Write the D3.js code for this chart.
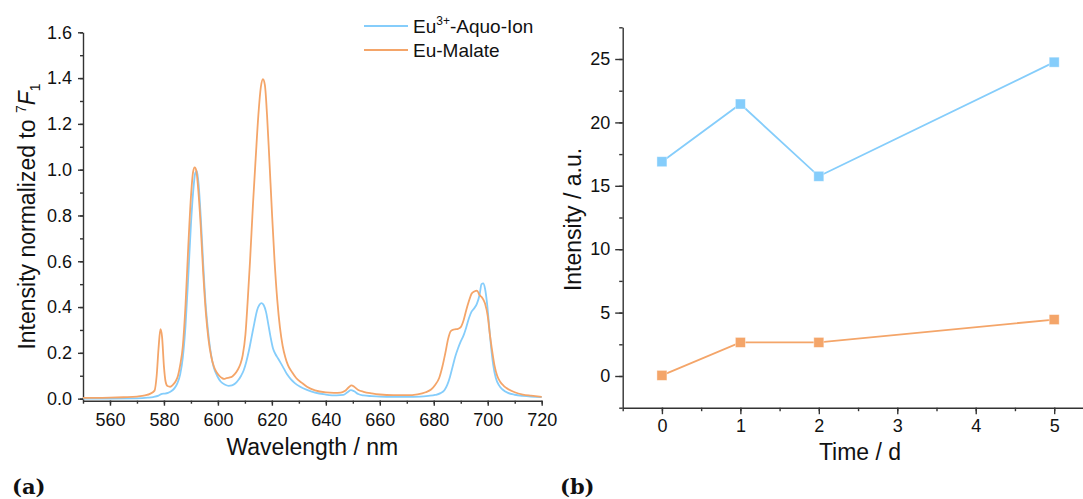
<!DOCTYPE html>
<html>
<head>
<meta charset="utf-8">
<script src="https://cdn.jsdelivr.net/npm/d3@7"></script>
<style>
  body { margin: 0; background: #fff; }
  svg { display: block; }
  .tick text { font-family: "Liberation Sans", Arial, sans-serif; font-size: 18px; fill: #111; }
  .axis path, .axis line { stroke: #333; stroke-width: 1.4; }
  .axis-label { font-family: "Liberation Sans", Arial, sans-serif; font-size: 23px; fill: #111; }
  .panel-label { font-family: "DejaVu Serif", "Liberation Serif", serif; font-weight: bold; font-size: 21px; fill: #111; }
  .legend text { font-family: "Liberation Sans", Arial, sans-serif; font-size: 19px; fill: #111; }
</style>
</head>
<body>
<div id="chart"></div>
<script>
// ---- panel (a): emission spectra ----
const aquoNm = [550, 560, 570, 574, 576, 578, 579.3, 580.3, 581.5, 582.8, 584, 585, 586, 587, 588, 589, 590, 590.8, 591.6, 592.2,
  592.9, 593.7, 594.5, 595.4, 596.4, 597.5, 598.5, 599.7, 601, 602.5, 604, 605.2, 606.4, 607.5, 608.6, 609.6, 610.5, 611.5,
  612.5, 613.5, 614.5, 615.4, 616.2, 617, 617.8, 618.6, 619.5, 620.4, 621.3, 622.3, 623.3, 624.5, 625.7, 627, 628.5, 630.5,
  633, 636, 640, 644, 646.5, 648, 649.3, 650.5, 652, 654, 657, 660, 665, 670, 675, 678, 680.5, 682.5, 684, 685, 686, 687,
  688, 689, 690, 691, 692, 693, 694, 695, 696, 697, 697.7, 698.3, 699, 699.8, 700.5, 701.2, 702, 703, 704.2, 705.5, 707.5,
  710, 713, 716, 720];
const aquoVal = [0.0, 0.0, 0.001, 0.004, 0.007, 0.013, 0.021, 0.022, 0.025, 0.033, 0.047, 0.068, 0.105, 0.18, 0.32, 0.53, 0.76, 0.9, 0.985, 0.995,
  0.93, 0.78, 0.6, 0.42, 0.29, 0.19, 0.135, 0.1, 0.075, 0.062, 0.056, 0.058, 0.066, 0.08, 0.1, 0.125, 0.16, 0.21,
  0.27, 0.33, 0.385, 0.41, 0.417, 0.408, 0.38, 0.33, 0.27, 0.22, 0.195, 0.175, 0.155, 0.13, 0.105, 0.085, 0.068, 0.052,
  0.038, 0.026, 0.018, 0.014, 0.016, 0.028, 0.037, 0.032, 0.02, 0.014, 0.011, 0.009, 0.008, 0.008, 0.009, 0.012, 0.016, 0.024, 0.038, 0.06, 0.095, 0.14,
  0.185, 0.22, 0.25, 0.275, 0.31, 0.35, 0.38, 0.395, 0.415, 0.455, 0.5, 0.503, 0.48, 0.41, 0.32, 0.23, 0.15, 0.09, 0.058, 0.04, 0.025,
  0.017, 0.012, 0.009, 0.007];

const malateNm = [550, 555, 560, 565, 570, 573, 575, 576.5, 577.3, 578, 578.7, 579.3, 580, 580.6, 581.3, 582.3, 583.3, 584.3, 585.2, 586,
  587, 588, 589, 590, 590.8, 591.4, 592, 592.8, 593.6, 594.5, 595.5, 596.5, 597.5, 598.5, 599.5, 600.5, 601.5, 602.3, 603.2,
  604.2, 605.2, 606.3, 607.3, 608.3, 609.2, 610.2, 611, 611.9, 613, 614, 615, 615.9, 616.7, 617.4, 618.2, 619, 620, 621, 622,
  623, 624, 625, 626, 627.5, 629, 631, 633, 636, 640, 643, 645.5, 647, 648.5, 649.5, 650.5, 652, 654, 657, 660, 665, 670, 674,
  677, 679, 680.5, 682, 683.2, 684.3, 685.3, 686.3, 687.5, 689, 690, 691, 692, 693, 694, 695, 696, 697, 698, 699, 700, 700.8,
  701.5, 702.5, 703.5, 704.6, 706, 707.5, 710, 713, 716, 720];
const malateVal = [0.003, 0.003, 0.004, 0.006, 0.009, 0.014, 0.022, 0.035, 0.1, 0.22, 0.303, 0.27, 0.14, 0.075, 0.055, 0.052, 0.06, 0.075, 0.1, 0.145,
  0.23, 0.41, 0.66, 0.88, 0.99, 1.01, 0.995, 0.9, 0.76, 0.56, 0.38, 0.26, 0.185, 0.14, 0.115, 0.1, 0.09, 0.086, 0.09,
  0.092, 0.096, 0.108, 0.125, 0.15, 0.19, 0.28, 0.42, 0.6, 0.85, 1.05, 1.24, 1.36, 1.395, 1.37, 1.24, 1.06, 0.82, 0.6, 0.43,
  0.31, 0.23, 0.18, 0.145, 0.115, 0.09, 0.07, 0.052, 0.036, 0.027, 0.025, 0.026, 0.033, 0.05, 0.058, 0.052, 0.038, 0.03, 0.023, 0.018, 0.015, 0.015, 0.019,
  0.028, 0.04, 0.06, 0.09, 0.14, 0.2, 0.26, 0.295, 0.302, 0.305, 0.312, 0.34, 0.385, 0.425, 0.458, 0.468, 0.472, 0.452, 0.44, 0.415, 0.36, 0.28,
  0.22, 0.145, 0.1, 0.074, 0.055, 0.042, 0.028, 0.018, 0.013, 0.008];

const nmTicks = [560, 580, 600, 620, 640, 660, 680, 700, 720];
const normTicks = [0.0, 0.2, 0.4, 0.6, 0.8, 1.0, 1.2, 1.4, 1.6];

// ---- panel (b): intensity over time ----
const days = [0, 1, 2, 5];
const aquoIntensity = [16.9, 21.45, 15.75, 24.75];
const malateIntensity = [0.05, 2.65, 2.65, 4.45];
const dayTicks = [0, 1, 2, 3, 4, 5];
const intensityTicks = [0, 5, 10, 15, 20, 25];

const blue = '#85cdfb';
const orange = '#f4a569';

const W = 1083, H = 499;
const svg = d3.select('#chart').append('svg')
    .attr('width', W)
    .attr('height', H);

function addMinor(g, axisFn, scale, values, size) {
    g.append('g')
        .attr('class', 'axis')
        .call(axisFn(scale).tickValues(values).tickSize(size).tickFormat(''))
        .call(s => s.select('.domain').remove());
}

// ---------- panel (a) ----------
const xA = d3.scaleLinear().domain([550, 720]).range([83, 541.7]);
const yA = d3.scaleLinear().domain([-0.009, 1.6]).range([400.7, 32.3]);

const gA = svg.append('g');

const xAxisA = gA.append('g').attr('transform', `translate(0,${yA.range()[0]})`);
addMinor(xAxisA, d3.axisBottom, xA, d3.range(550, 721, 10), 3);
xAxisA.append('g')
    .attr('class', 'axis')
    .call(d3.axisBottom(xA).tickValues(nmTicks).tickSize(5).tickSizeOuter(0).tickPadding(8));

const yAxisA = gA.append('g').attr('transform', `translate(${xA.range()[0]},0)`);
addMinor(yAxisA, d3.axisLeft, yA, d3.range(0, 1.61, 0.1), 3);
yAxisA.append('g')
    .attr('class', 'axis')
    .call(d3.axisLeft(yA).tickValues(normTicks).tickSize(5).tickSizeOuter(0).tickPadding(6)
        .tickFormat(d3.format('.1f')));

const lineA = d3.line()
    .x(d => xA(d[0]))
    .y(d => yA(d[1]))
    .curve(d3.curveMonotoneX);

gA.append('path')
    .datum(d3.zip(aquoNm, aquoVal))
    .attr('fill', 'none')
    .attr('stroke', blue)
    .attr('stroke-width', 1.8)
    .attr('d', lineA);

gA.append('path')
    .datum(d3.zip(malateNm, malateVal))
    .attr('fill', 'none')
    .attr('stroke', orange)
    .attr('stroke-width', 1.8)
    .attr('d', lineA);

// legend
const legend = gA.append('g').attr('class', 'legend');
const legendItems = [
    { color: blue, y: 26 },
    { color: orange, y: 50 }
];
legend.selectAll('line')
    .data(legendItems)
    .join('line')
    .attr('x1', 364).attr('x2', 408)
    .attr('y1', d => d.y).attr('y2', d => d.y)
    .attr('stroke', d => d.color)
    .attr('stroke-width', 1.8);

const t1 = legend.append('text').attr('x', 413).attr('y', 33);
t1.append('tspan').text('Eu');
t1.append('tspan').attr('dy', -8).style('font-size', '12px').text('3+');
t1.append('tspan').attr('dy', 8).text('-Aquo-Ion');
legend.append('text').attr('x', 413).attr('y', 57).text('Eu-Malate');

// axis labels
gA.append('text')
    .attr('class', 'axis-label')
    .attr('x', (xA.range()[0] + xA.range()[1]) / 2)
    .attr('y', 455)
    .attr('text-anchor', 'middle')
    .text('Wavelength / nm');

const ylab = gA.append('text')
    .attr('class', 'axis-label')
    .attr('transform', `translate(35,${(yA.range()[0] + yA.range()[1]) / 2}) rotate(-90)`)
    .attr('text-anchor', 'middle');
ylab.append('tspan').text('Intensity normalized to ');
ylab.append('tspan').attr('dy', -9).style('font-size', '14px').text('7');
ylab.append('tspan').attr('dy', 9).style('font-style', 'italic').text('F');
ylab.append('tspan').attr('dy', 5).style('font-size', '14px').text('1');

svg.append('text').attr('class', 'panel-label').attr('x', 12).attr('y', 494).text('(a)');

// ---------- panel (b) ----------
const xB = d3.scaleLinear().domain([-0.5, 5.5]).range([622.7, 1093.4]);
const yB = d3.scaleLinear().domain([-2.5, 27.5]).range([407.7, 27.3]);

const gB = svg.append('g');

const xAxisB = gB.append('g').attr('transform', `translate(0,${yB.range()[0]})`);
addMinor(xAxisB, d3.axisBottom, xB, d3.range(-0.5, 5.6, 0.5), 3.5);
xAxisB.append('g')
    .attr('class', 'axis')
    .call(d3.axisBottom(xB).tickValues(dayTicks).tickSize(6.5).tickSizeOuter(0).tickPadding(5)
        .tickFormat(d3.format('d')));

const yAxisB = gB.append('g').attr('transform', `translate(${xB.range()[0]},0)`);
addMinor(yAxisB, d3.axisLeft, yB, d3.range(-2.5, 27.6, 2.5), 3.5);
yAxisB.append('g')
    .attr('class', 'axis')
    .call(d3.axisLeft(yB).tickValues(intensityTicks).tickSize(7.5).tickSizeOuter(0).tickPadding(5)
        .tickFormat(d3.format('d')));

const lineB = d3.line()
    .x(d => xB(d[0]))
    .y(d => yB(d[1]));

const seriesB = [
    { color: blue, values: d3.zip(days, aquoIntensity) },
    { color: orange, values: d3.zip(days, malateIntensity) }
];

seriesB.forEach(s => {
    gB.append('path')
        .datum(s.values)
        .attr('fill', 'none')
        .attr('stroke', s.color)
        .attr('stroke-width', 1.8)
        .attr('d', lineB);

    gB.selectAll(null)
        .data(s.values)
        .join('rect')
        .attr('x', d => xB(d[0]) - 5)
        .attr('y', d => yB(d[1]) - 5)
        .attr('width', 10)
        .attr('height', 10)
        .attr('fill', s.color)
        .attr('stroke', '#fff')
        .attr('stroke-opacity', 0.5)
        .attr('stroke-width', 0.8);
});

gB.append('text')
    .attr('class', 'axis-label')
    .attr('x', 860)
    .attr('y', 460)
    .attr('text-anchor', 'middle')
    .text('Time / d');

gB.append('text')
    .attr('class', 'axis-label')
    .attr('transform', `translate(581,${(yB.range()[0] + yB.range()[1]) / 2 + 2}) rotate(-90)`)
    .attr('text-anchor', 'middle')
    .text('Intensity / a.u.');

svg.append('text').attr('class', 'panel-label').attr('x', 560).attr('y', 494).text('(b)');
</script>
</body>
</html>
